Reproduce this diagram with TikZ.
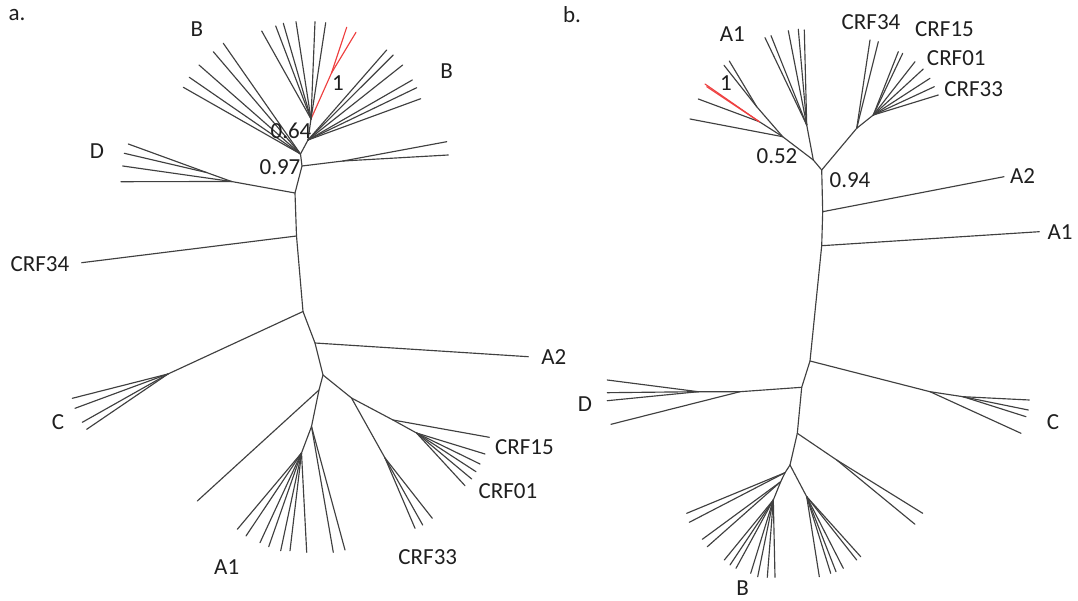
\documentclass[tikz,border=0pt]{standalone}
\usepackage{fontspec}
\setmainfont{Carlito}
\definecolor{edge}{RGB}{64,64,64}
\definecolor{hlred}{RGB}{238,64,64}
% fan: draws branches from a parent point to a list of x/y tips
\newcommand\fan[3][br]{%
  \foreach \x/\y [count=\i] in {#3} {%
    \coordinate (#2-\i) at (\x,\y);
    \draw[#1] (#2) -- (#2-\i);
  }}
\begin{document}
\begin{tikzpicture}[x=1pt,y=-1pt,
  br/.style={draw=edge, line width=1.15pt, line cap=round},
  redbr/.style={draw=hlred, line width=1.15pt, line cap=round},
  lab/.style={font=\fontsize{23}{23}\selectfont, inner sep=0pt, text=black!88}]
\useasboundingbox (0,0) rectangle (1078,601);

% ---------------- tree a ----------------
\coordinate (a97) at (302,166);
\coordinate (aLB) at (300.5,154);
\coordinate (a64) at (308,140);
\coordinate (aCt) at (311,119);
\coordinate (aRd) at (331.5,73);
\coordinate (aE)  at (343,161);
\coordinate (aS1) at (295,193);
\coordinate (aS2) at (296.5,236);
\coordinate (aS3) at (303,311.5);
\coordinate (aS4) at (315,343);
\coordinate (aS5) at (323,375);
\coordinate (aD1) at (231.5,181.5);
\coordinate (aD2) at (206.5,172.5);
\coordinate (aC1) at (168,374);
\coordinate (aA)  at (319,390);
\coordinate (aA2) at (311.5,426.5);
\coordinate (aA3) at (301.5,453);
\coordinate (aR1) at (351.5,398);
\coordinate (aR2) at (393,420);
\coordinate (aR3) at (385,458);
\coordinate (aR4) at (416.5,433);

\draw[br] (aS5) -- (aS4) -- (aS3) -- (aS2) -- (aS1) -- (a97) -- (aLB) -- (a64) -- (aCt);
\draw[redbr] (aCt) -- (aRd);
\draw[br] (a97) -- (aE);
\draw[br] (aS1) -- (aD1) -- (aD2);
\draw[br] (aS3) -- (aC1);
\draw[br] (aS5) -- (aA) -- (aA2) -- (aA3);
\draw[br] (aS5) -- (aR1) -- (aR2) -- (aR4);
\draw[br] (aR1) -- (aR3);

\fan{aLB}{183.3/87.3, 189.3/77.3, 199/65, 213.3/51.7, 223.3/43.3}
\fan{aCt}{261.7/31, 275.7/26, 283.3/23.3, 296/21.7, 315/21.7, 325.7/22.7}
\fan[redbr]{aRd}{346.7/27.3, 356/32.3}
\fan{a64}{386.7/50, 393.3/55, 402.7/65, 412.3/80, 416.7/87.7, 420.7/98.7}
\fan{aE}{446.7/141.7, 448.3/155}
\fan{aD1}{121/181.7, 122.7/166}
\fan{aD2}{128.3/144, 124.3/153.3}
\fan{aS2}{81.7/262.7}
\fan{aC1}{72.3/398.3, 75/408.3, 82.3/422.3, 86.7/429.3}
\fan{aS4}{528.3/356.7}
\fan{aA}{197.3/501}
\fan{aA2}{333.3/552.3, 345/550}
\fan{aA3}{237.3/529.3, 246/536, 260/542.7, 268.7/546.7, 280.7/550.7, 290/550.7, 306.7/552.3}
\fan{aR3}{415/528.3, 422.7/525, 432.3/518.3}
\fan{aR2}{489.3/437.3}
\fan{aR4}{485/454, 480/464, 476/471.7, 471.7/479, 465/485.7}

\node[lab] (ta)   at (17,15)     {a.};
\node[lab] (aB1)  at (197,29)    {B};
\node[lab] (aB2)  at (446.7,70.7) {B};
\node[lab] (a1)   at (338,83)    {1};
\node[lab] (a064) at (291,131)   {0.64};
\node[lab] (a097) at (280,167)   {0.97};
\node[lab] (aDl)  at (97,151)    {D};
\node[lab] (aC34) at (40,264)    {CRF34};
\node[lab] (aCl)  at (58,422)    {C};
\node[lab] (aA2l) at (553.8,357) {A2};
\node[lab] (aC15) at (524.5,447) {CRF15};
\node[lab] (aC01) at (508,491)   {CRF01};
\node[lab] (aC33) at (427.8,557) {CRF33};
\node[lab] (aA1l) at (226.7,567) {A1};

% ---------------- tree b ----------------
\coordinate (bRt) at (821.7,170);
\coordinate (bL)  at (813.3,160);
\coordinate (b52) at (782.7,136.7);
\coordinate (bCf) at (806.7,125);
\coordinate (bRd) at (759.3,121.7);
\coordinate (bU)  at (756.7,106.7);
\coordinate (bCR) at (856.7,128.3);
\coordinate (bCR2) at (873.3,115);
\coordinate (bA2) at (822.7,211.7);
\coordinate (bA1) at (821.7,245.7);
\coordinate (bS1) at (810,361);
\coordinate (bS2) at (801.7,387.3);
\coordinate (bS3) at (797.3,433.3);
\coordinate (bS4) at (790,465);
\coordinate (bC1) at (930,391.7);
\coordinate (bC2) at (963,396.7);
\coordinate (bD1) at (740,391.7);
\coordinate (bD2) at (698.3,391.7);
\coordinate (bE1) at (836.7,460);
\coordinate (bB1) at (785,472.7);
\coordinate (bB2) at (780.7,481.7);
\coordinate (bB3) at (773.3,500);
\coordinate (bB4) at (806.7,496.7);

\draw[br] (bS4) -- (bS3) -- (bS2) -- (bS1) -- (bA1) -- (bA2) -- (bRt) -- (bL) -- (b52) -- (bRd);
\draw[br] (bL) -- (bCf);
\draw[br] (b52) -- (bU);
\draw[br] (bRt) -- (bCR) -- (bCR2);
\draw[br] (bS1) -- (bC1) -- (bC2);
\draw[br] (bS2) -- (bD1) -- (bD2);
\draw[br] (bS3) -- (bE1);
\draw[br] (bS4) -- (bB1) -- (bB2) -- (bB3);
\draw[br] (bS4) -- (bB4);

\fan{bCf}{765/37.7, 771/35.7, 788.3/30.7, 798.3/29.3, 804.3/30}
\fan{b52}{690/119}
\fan{bRd}{698.3/99}
\foreach \x/\y [count=\i] in {705/84, 706.7/86.7} {
  \coordinate (bRr-\i) at (\x,\y);
  \draw[redbr] (bRd) -- (bRr-\i);
}
\fan{bU}{729.3/61, 724/65.3}
\fan{bCR}{870/40, 878.3/41.7}
\fan{bCR2}{898.3/51.7, 902.7/53.3, 915/61.7, 923.3/69, 930/78.3, 934.3/86.7, 938.3/95}
\fan{bA2}{1004/176.7}
\fan{bA1}{1039.3/231.7}
\fan{bC1}{1021/433.3}
\fan{bC2}{1029.3/400, 1028.3/410, 1026/416.7}
\fan{bD1}{611/424.3}
\fan{bD2}{607.3/380, 607.3/392.7, 607.3/400.7}
\fan{bE1}{922.7/513.3, 915/524.3}
\fan{bB1}{686.7/513.3, 689.3/522.3}
\fan{bB2}{702.3/539.3, 707.3/546.7}
\fan{bB3}{724.3/560, 730/565, 736/568.3, 750.7/573.3, 757.7/576.7, 767.3/577.3, 775/577.3}
\fan{bB4}{819.3/576.7, 830.7/573.3, 836/571.7, 843.3/568.3, 856.7/560, 860.7/556.7}

\node[lab] (tb)   at (572,15)     {b.};
\node[lab] (bA1t) at (732.3,34)   {A1};
\node[lab] (b1)   at (726,83)     {1};
\node[lab] (b052) at (777,156)    {0.52};
\node[lab] (b094) at (850,180)    {0.94};
\node[lab] (bC34) at (871,21.7)   {CRF34};
\node[lab] (bC15) at (944.5,29.3) {CRF15};
\node[lab] (bC01) at (956.3,58)   {CRF01};
\node[lab] (bC33) at (973.7,89)   {CRF33};
\node[lab] (bA2l) at (1022.5,176) {A2};
\node[lab] (bA1l) at (1060,231.7) {A1};
\node[lab] (bDl)  at (585,404)    {D};
\node[lab] (bCl)  at (1053,422)   {C};
\node[lab] (bBl)  at (742.7,588) {B};
\end{tikzpicture}
\end{document}
